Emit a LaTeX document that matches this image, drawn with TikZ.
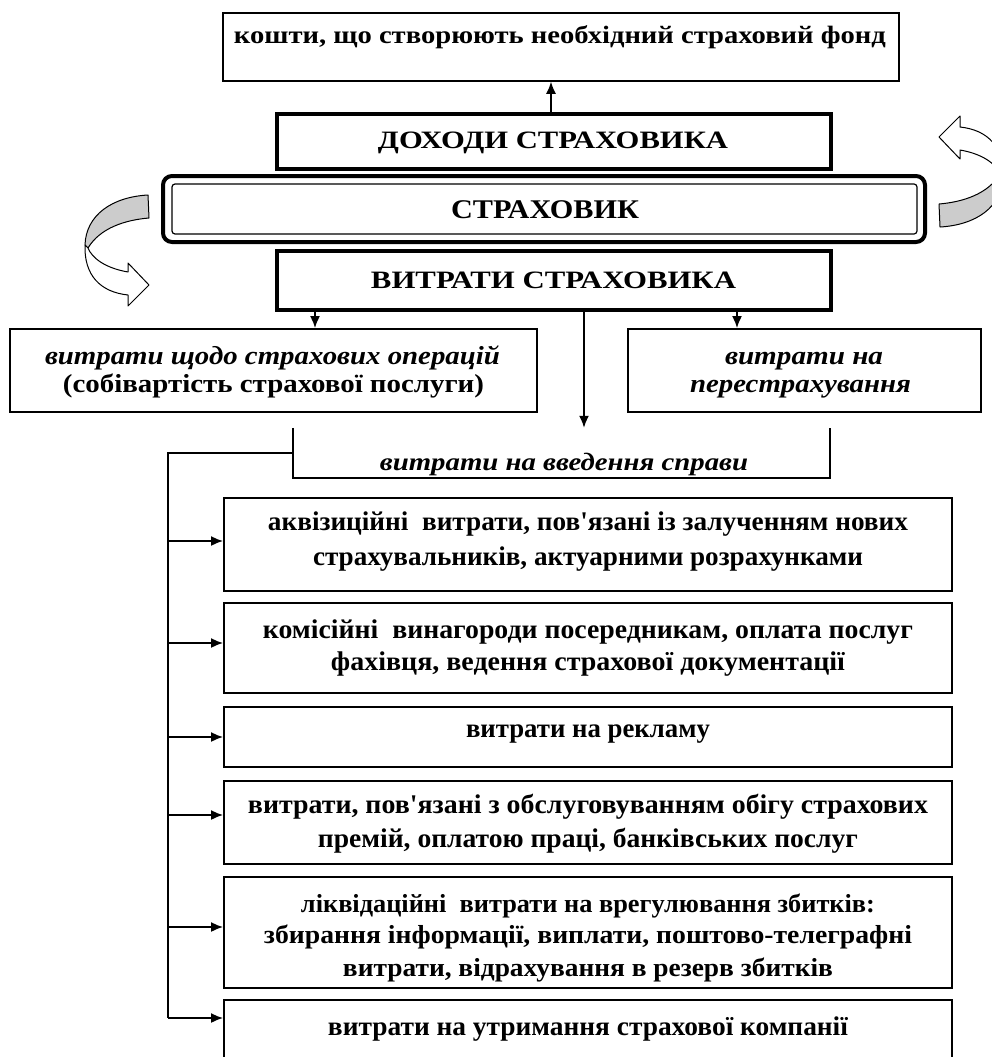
\documentclass[tikz,border=0pt]{standalone}
\usepackage{fontspec}
\setmainfont{Liberation Serif}
\usepackage{graphicx}
\usetikzlibrary{arrows.meta}
\newcommand{\fitline}[3]{\resizebox{#1pt}{\height}{\fontsize{#2}{#2}\selectfont #3}}
\newcommand{\apos}{\textquotesingle}
\tikzset{
  box/.style={draw, line width=1.8pt, inner sep=0pt},
  thickbox/.style={draw, line width=3.5pt, inner sep=0pt},
  txt/.style={anchor=base, inner sep=0pt},
  conn/.style={line width=1.8pt},
  arr/.style={line width=1.8pt, -{Latex[length=12pt,width=10pt]}},
  grayband/.style={fill=gray!40, draw, line width=1pt, line join=round},
  whiteband/.style={fill=white, draw, line width=1pt, line join=round}
}
\newcommand{\mycurvedarrow}{%
  \path[grayband] (148,195) .. controls (112,197) and (86,215) .. (85,245)
     -- (88,248) .. controls (100,228) and (125,220) .. (149,218) -- cycle;
  \path[whiteband] (85,245) .. controls (84,275) and (100,292) .. (128,295)
     -- (128,306) -- (149,285) -- (128,263) -- (128,272)
     .. controls (105,268) and (92,258) .. (88,248) -- cycle;
}
\begin{document}
\begin{tikzpicture}[x=1pt,y=-1pt]
\useasboundingbox (0,0) rectangle (992,1057);
\clip (0,0) rectangle (992,1057);

% ---------- boxes ----------
\node[box, line width=1.5pt, minimum width=676pt, minimum height=68pt] (top) at (561,47) {};
\node[thickbox, minimum width=554pt, minimum height=55pt] (dohody) at (554,141.5) {};
\node[draw, line width=4pt, rounded corners=9pt, minimum width=762pt, minimum height=66pt, inner sep=0pt] (strakh) at (544,209) {};
\node[draw, line width=1.2pt, rounded corners=3pt, minimum width=745pt, minimum height=50pt, inner sep=0pt] (strakhin) at (544.5,209) {};
\node[thickbox, minimum width=554pt, minimum height=59pt] (vytraty) at (554,280.5) {};
\node[box, minimum width=527pt, minimum height=83pt] (left) at (273.5,370.5) {};
\node[box, minimum width=353pt, minimum height=83pt] (right) at (804.5,370.5) {};
\node[inner sep=0pt, minimum width=537pt, minimum height=50pt] (intro) at (561.5,453) {};
\draw[line width=1.8pt] (intro.north west) -- (intro.south west) -- (intro.south east) -- (intro.north east);
\node[box, minimum width=728pt, minimum height=93pt] (b1) at (588,544.5) {};
\node[box, minimum width=728pt, minimum height=90pt] (b2) at (588,648) {};
\node[box, minimum width=728pt, minimum height=60pt] (b3) at (588,737) {};
\node[box, minimum width=728pt, minimum height=83pt] (b4) at (588,822.5) {};
\node[box, minimum width=728pt, minimum height=111pt] (b5) at (588,932.5) {};
\node[box, minimum width=728pt, minimum height=70pt] (b6) at (588,1035) {};

% ---------- texts ----------
\node[txt] (ttop) at (560,43.5) {\fitline{652}{25}{\bfseries кошти, що створюють необхідний страховий фонд}};
\node[txt] (tdoh) at (553,148.5) {\fitline{350}{25}{\bfseries ДОХОДИ СТРАХОВИКА}};
\node[txt] (tstr) at (545,218) {\fitline{188}{27}{\bfseries СТРАХОВИК}};
\node[txt] (tvyt) at (553.5,288.5) {\fitline{365}{25}{\bfseries ВИТРАТИ СТРАХОВИКА}};
\node[txt] (tl1) at (272.5,364) {\fitline{455}{26}{\bfseries\itshape витрати щодо страхових операцій}};
\node[txt] (tl2) at (273.5,392) {\fitline{421}{26}{\bfseries (собівартість страхової послуги)}};
\node[txt] (tr1) at (804,364) {\fitline{158}{26}{\bfseries\itshape витрати на}};
\node[txt] (tr2) at (800.5,392) {\fitline{221}{26}{\bfseries\itshape перестрахування}};
\node[txt] (tin) at (564,470) {\fitline{368}{25}{\bfseries\itshape витрати на введення справи}};
\node[txt] (t11) at (588,530) {\fitline{640}{27}{\bfseries аквізиційні\ \ витрати, пов\apos язані із залученням нових}};
\node[txt] (t12) at (588,565) {\fitline{550}{27}{\bfseries страхувальників, актуарними розрахунками}};
\node[txt] (t21) at (588,638) {\fitline{650}{27}{\bfseries комісійні\ \ винагороди посередникам, оплата послуг}};
\node[txt] (t22) at (588,670) {\fitline{514}{27}{\bfseries фахівця, ведення страхової документації}};
\node[txt] (t31) at (588,737) {\fitline{244}{27}{\bfseries витрати на рекламу}};
\node[txt] (t41) at (588,813) {\fitline{680}{27}{\bfseries витрати, пов\apos язані з обслуговуванням обігу страхових}};
\node[txt] (t42) at (588,847) {\fitline{540}{27}{\bfseries премій, оплатою праці, банківських послуг}};
\node[txt] (t51) at (588,912) {\fitline{574}{26}{\bfseries ліквідаційні\ \ витрати на врегулювання збитків:}};
\node[txt] (t52) at (588,943) {\fitline{648}{26}{\bfseries збирання інформації, виплати, поштово-телеграфні}};
\node[txt] (t53) at (588,976) {\fitline{490}{26}{\bfseries витрати, відрахування в резерв збитків}};
\node[txt] (t61) at (588,1035) {\fitline{520}{27}{\bfseries витрати на утримання страхової компанії}};

% ---------- connectors ----------
\coordinate (xA) at (551,0);
\coordinate (xL) at (315,0);
\coordinate (xM) at (584,0);
\coordinate (xR) at (737,0);
\coordinate (bus) at (168,0);
\coordinate (y1) at (0,541);
\coordinate (y2) at (0,643);
\coordinate (y3) at (0,737);
\coordinate (y4) at (0,815);
\coordinate (y5) at (0,927);
\coordinate (y6) at (0,1018);

\draw[arr, line width=1.5pt] (dohody.north -| xA) -- (top.south -| xA);
\draw[arr] (vytraty.south -| xL) -- (left.north -| xL);
\draw[arr] (vytraty.south -| xM) -- (intro.north -| xM);
\draw[arr] (vytraty.south -| xR) -- (right.north -| xR);
\draw[conn] (intro.west) -| (bus |- y6);
\draw[arr] (bus |- y1) -- (b1.west |- y1);
\draw[arr] (bus |- y2) -- (b2.west |- y2);
\draw[arr] (bus |- y3) -- (b3.west |- y3);
\draw[arr] (bus |- y4) -- (b4.west |- y4);
\draw[arr] (bus |- y5) -- (b5.west |- y5);
\draw[arr] (bus |- y6) -- (b6.west |- y6);

% ---------- curved arrows ----------
\mycurvedarrow
\begin{scope}[rotate around={180:(544,211)}]
\mycurvedarrow
\end{scope}
\end{tikzpicture}
\end{document}
